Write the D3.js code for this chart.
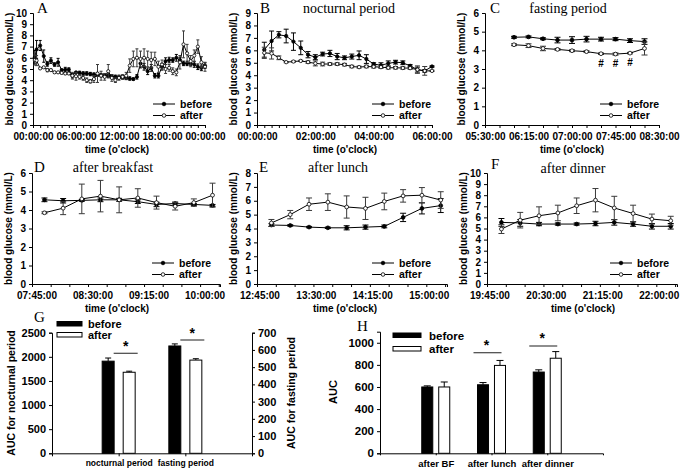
<!DOCTYPE html>
<html><head><meta charset="utf-8">
<script src="https://cdn.jsdelivr.net/npm/d3@7"></script>
<style>
body{margin:0;background:#fff;}
svg{display:block;font-family:"Liberation Sans",Arial,sans-serif;}
</style></head><body>
<svg id="c" width="685" height="468"></svg>
<script>
// ---------- DATA ----------
const hoursA=[0.25,0.5,1,1.5,2,2.5,3,3.5,4,4.5,5,5.5,6,6.5,7,7.5,8,8.5,9,9.5,10,10.5,11,11.5,12,12.5,13,13.5,14,14.5,15,15.5,16,16.5,17,17.5,18,18.5,19,19.5,20,20.5,21,21.5,22,22.5,23,23.5,24];
const beforeA=[6.05,6.75,7.1,6.15,5.45,5.75,5.4,5.6,4.9,4.95,4.95,4.4,4.7,4.65,4.6,4.6,4.55,4.5,4.5,4.45,4.4,4.4,4.35,4.3,4.3,4.25,4.2,4.15,4.1,4.3,5.5,5.2,4.8,5.1,4.4,4.4,5.2,5.7,5.8,5.8,6.0,5.8,5.5,5.5,5.5,5.4,5.2,5.1,5.3];
const beforeErrA=[0.6,0.8,0.45,0.55,0.2,0.25,0.15,0.35,0.1,0.2,0.15,0.2,0.05,0.15,0.15,0.15,0.15,0.15,0.15,0.15,0.15,0.15,0.15,0.15,0.15,0.15,0.15,0.15,0.1,0.2,0.4,0.3,0.3,0.3,0.2,0.2,0.3,0.3,0.25,0.2,0.3,0.25,0.2,0.2,0.2,0.25,0.25,0.25,0.25];
const afterA=[5.8,5.75,5.05,5.15,4.9,4.9,4.7,4.7,4.65,4.6,4.6,4.4,4.35,4.3,4.2,4.0,3.9,4.1,4.6,4.4,4.3,4.8,4.2,4.0,4.2,4.3,4.4,5.3,5.9,6.0,5.9,6.0,5.9,5.8,5.9,5.2,5.4,5.0,5.1,4.8,4.7,5.6,7.2,6.4,5.7,6.2,7.0,5.6,5.2];
const afterErrA=[0.45,0.45,0.05,0.05,0.15,0.1,0.1,0.08,0.1,0.1,0.1,0.3,0.35,0.2,0.2,0.2,0.15,0.3,0.8,0.4,0.3,0.6,0.3,0.2,0.2,0.2,0.3,0.6,0.7,0.8,0.7,0.8,0.7,0.7,0.6,0.5,0.4,0.4,0.3,0.3,0.3,0.6,1.2,0.8,0.5,0.5,0.6,0.5,0.4];

const timesB=["00:15","00:30","00:45","01:00","01:15","01:30","01:45","02:00","02:15","02:30","02:45","03:00","03:15","03:30","03:45","04:00","04:15","04:30","04:45","05:00","05:15","05:30","05:45","06:00"];
const beforeB=[6.05,6.75,7.25,7.15,6.7,6.2,5.65,5.45,5.7,5.75,5.5,5.4,5.5,5.6,5.3,4.9,4.8,4.95,5.05,5.0,4.75,4.45,4.35,4.7];
const beforeErrB=[0.6,0.8,0.25,0.55,0.7,0.55,0.25,0.2,0.15,0.25,0.25,0.15,0.2,0.35,0.35,0.1,0.2,0.2,0.15,0.15,0.1,0.2,0.1,0.05];
const afterB=[5.8,5.75,5.4,5.05,5.1,5.15,5.05,4.95,4.9,4.9,4.9,4.85,4.7,4.65,4.7,4.68,4.65,4.6,4.6,4.58,4.57,4.45,4.35,4.35];
const afterErrB=[0.45,0.45,0.15,0.05,0.05,0.05,0.1,0.2,0.15,0.1,0.1,0.1,0.1,0.08,0.1,0.1,0.1,0.1,0.1,0.1,0.1,0.3,0.35,0.05];

const timesC=["06:00","06:15","06:30","06:45","07:00","07:15","07:30","07:45","08:00","08:15"];
const beforeC=[4.7,4.72,4.62,4.55,4.55,4.6,4.6,4.6,4.52,4.47];
const beforeErrC=[0.05,0.05,0.05,0.15,0.18,0.15,0.1,0.08,0.1,0.15];
const afterC=[4.3,4.25,4.1,4.05,3.98,3.93,3.82,3.8,3.85,4.1];
const afterErrC=[0.05,0.1,0.12,0.05,0.05,0.05,0.04,0.06,0.04,0.35];
const markC=["","","","","","","#","#","#",""];

const timesD=["07:45","08:00","08:15","08:30","08:45","09:00","09:15","09:30","09:45","10:00"];
const beforeD=[4.55,4.5,4.52,4.55,4.55,4.45,4.3,4.35,4.3,4.25];
const beforeErrD=[0.1,0.12,0.05,0.1,0.08,0.1,0.12,0.08,0.05,0.05];
const afterD=[3.85,4.1,4.6,4.75,4.55,4.65,4.4,4.2,4.4,4.8];
const afterErrD=[0.05,0.35,0.8,0.85,0.7,0.5,0.35,0.2,0.2,0.65];

const timesE=["12:45","13:00","13:15","13:30","13:45","14:00","14:15","14:30","14:45","15:00"];
const beforeE=[4.25,4.22,4.1,4.05,4.05,4.1,4.15,4.8,5.45,5.65];
const beforeErrE=[0.1,0.05,0.05,0.05,0.15,0.15,0.1,0.3,0.4,0.5];
const afterE=[4.4,5.0,5.75,5.9,5.55,5.45,5.95,6.35,6.4,6.05];
const afterErrE=[0.25,0.3,0.45,0.6,0.8,0.8,0.6,0.45,0.55,0.6];

const timesF=["19:45","20:00","20:15","20:30","20:45","21:00","21:15","21:30","21:45","22:00"];
const beforeF=[5.55,5.5,5.4,5.4,5.4,5.45,5.55,5.4,5.2,5.2];
const beforeErrF=[0.35,0.3,0.15,0.1,0.1,0.2,0.25,0.2,0.25,0.25];
const afterF=[4.95,5.75,6.15,6.4,7.05,7.55,6.85,6.35,5.85,5.7];
const afterErrF=[0.4,0.7,0.8,0.7,0.7,1.05,1.05,0.75,0.45,0.4];

const periodsG=["nocturnal period","fasting period"];
const beforeG=[1910,623];
const beforeErrG=[65,12];
const afterG=[1680,541];
const afterErrG=[22,8];

const mealsH=["after BF","after lunch","after dinner"];
const beforeH=[600,620,735];
const beforeErrH=[10,20,20];
const afterH=[600,795,860];
const afterErrH=[45,45,60];

const seriesNames=["before","after"];

// ---------- HELPERS ----------
const svg=d3.select("#c");
const toMin=t=>+t.slice(0,2)*60+ +t.slice(3,5);
const fmtMin=m=>{const h=Math.floor(m/60)%24,mm=m%60;return String(h).padStart(2,"0")+":"+String(mm).padStart(2,"0")+":00";};
const FONT="Liberation Sans, Arial, sans-serif";
const SERIF="Liberation Serif, Times New Roman, serif";

function styleAxis(g,fs){
  g.select(".domain").attr("stroke","#000").attr("stroke-width",1);
  g.selectAll(".tick line").attr("stroke","#000");
  g.selectAll(".tick text").attr("font-family",FONT).attr("font-weight","bold").attr("font-size",fs||10).attr("fill","#000");
}

function linePanel(o){
  const g=svg.append("g");
  const x=d3.scaleLinear().domain(o.xDomain).range(o.xRange);
  const y=d3.scaleLinear().domain([0,o.yMax]).range([o.yBot,o.yTop]);
  g.append("g").attr("transform",`translate(${o.xRange[0]},0)`)
    .call(d3.axisLeft(y).ticks(o.yMax).tickSize(3).tickPadding(3).tickFormat(d3.format("d")))
    .call(styleAxis);
  g.append("g").attr("transform",`translate(0,${o.yBot})`)
    .call(d3.axisBottom(x).tickValues(o.minor).tickSize(3).tickFormat(""))
    .call(styleAxis);
  g.append("g").attr("transform",`translate(0,${o.yBot})`)
    .call(d3.axisBottom(x).tickValues(o.major).tickSize(0).tickPadding(8).tickFormat(o.fmt))
    .call(styleAxis).call(a=>{a.select(".domain").remove();a.selectAll(".tick text").attr("dx",o.labelDx||0);});
  const ser=[
    {name:"before",v:o.before,e:o.beforeErr,fill:"#000"},
    {name:"after",v:o.after,e:o.afterErr,fill:"#fff"}
  ];
  const line=d3.line().x(d=>x(d[0])).y(d=>y(d[1]));
  ser.forEach(s=>{
    const pts=o.xs.map((t,i)=>[t,s.v[i],s.e[i]]);
    const eb=g.append("g").attr("stroke",s.name==="after"?"#3a3a3a":"#000").attr("stroke-width",1);
    pts.forEach(p=>{
      const cx=x(p[0]);
      eb.append("line").attr("x1",cx).attr("x2",cx).attr("y1",y(p[1]-p[2])).attr("y2",y(p[1]+p[2]));
      eb.append("line").attr("x1",cx-o.cap).attr("x2",cx+o.cap).attr("y1",y(p[1]+p[2])).attr("y2",y(p[1]+p[2]));
      eb.append("line").attr("x1",cx-o.cap).attr("x2",cx+o.cap).attr("y1",y(p[1]-p[2])).attr("y2",y(p[1]-p[2]));
    });
    g.append("path").datum(pts).attr("fill","none").attr("stroke","#000").attr("stroke-width",1).attr("d",line);
    g.append("g").selectAll("circle").data(pts).join("circle")
      .attr("cx",d=>x(d[0])).attr("cy",d=>y(d[1])).attr("r",o.r)
      .attr("fill",s.fill).attr("stroke","#000").attr("stroke-width",0.8);
  });
  if(o.marks){
    g.append("g").selectAll("text").data(o.xs.map((t,i)=>[t,o.marks[i],o.after[i]]).filter(d=>d[1]))
      .join("text").attr("x",d=>x(d[0])).attr("y",d=>y(d[2])+13).attr("text-anchor","middle")
      .attr("font-family",FONT).attr("font-weight","bold").attr("font-size",10).text(d=>d[1]);
  }
  seriesNames.forEach((n,i)=>{
    const ly=o.legY+i*11.5;
    g.append("line").attr("x1",o.legX).attr("x2",o.legX+22).attr("y1",ly).attr("y2",ly).attr("stroke","#000");
    g.append("circle").attr("cx",o.legX+11).attr("cy",ly).attr("r",1.8).attr("fill",i?"#fff":"#000").attr("stroke","#000").attr("stroke-width",0.8);
    g.append("text").attr("x",o.legX+27).attr("y",ly+3.5).attr("font-family",FONT).attr("font-weight","bold").attr("font-size",10.5).text(n);
  });
  g.append("text").attr("x",o.letterX).attr("y",o.letterY).attr("font-family",SERIF).attr("font-size",15).text(o.letter);
  if(o.title) g.append("text").attr("x",o.titleX).attr("y",o.titleY||o.letterY).attr("text-anchor","middle").attr("font-family",SERIF).attr("font-size",14).text(o.title);
  g.append("text").attr("transform",`translate(${o.xRange[0]-20},${(o.yTop+o.yBot)/2}) rotate(-90)`)
    .attr("text-anchor","middle").attr("font-family",FONT).attr("font-weight","bold").attr("font-size",10).text("blood glucose (mmol/L)");
  g.append("text").attr("x",o.xlabX).attr("y",o.yBot+28).attr("text-anchor","middle")
    .attr("font-family",FONT).attr("font-weight","bold").attr("font-size",10).text("time (o'clock)");
}

// ---------- PANELS A-F ----------
linePanel({letter:"A",letterX:37,letterY:13,xDomain:[0,24],xRange:[33,205],yTop:13,yBot:125,yMax:10,
  xs:hoursA,before:beforeA,beforeErr:beforeErrA,after:afterA,afterErr:afterErrA,
  major:[0,6,12,18,24],minor:d3.range(0,24.01,1),fmt:d=>fmtMin(d*60),r:1.6,cap:1.5,
  legX:153,legY:104,xlabX:117});
linePanel({letter:"B",letterX:260,letterY:13,title:"nocturnal period",titleX:349,xDomain:[0,360],xRange:[257,432],yTop:13,yBot:125,yMax:9,
  xs:timesB.map(toMin),before:beforeB,beforeErr:beforeErrB,after:afterB,afterErr:afterErrB,
  major:[0,120,240,360],minor:d3.range(0,361,15),fmt:fmtMin,r:1.7,cap:2.5,
  legX:372,legY:104,xlabX:345});
linePanel({letter:"C",letterX:490,letterY:13,title:"fasting period",titleX:568,xDomain:[330,510],xRange:[485,659],yTop:13,yBot:125,yMax:6,
  xs:timesC.map(toMin),before:beforeC,beforeErr:beforeErrC,after:afterC,afterErr:afterErrC,marks:markC,
  major:[330,375,420,465,510],minor:d3.range(330,511,15),fmt:fmtMin,r:1.9,cap:3,
  legX:600,legY:104,xlabX:572});
linePanel({letter:"D",letterX:34,letterY:172,title:"after breakfast",titleX:113,xDomain:[455,606],xRange:[32,220],yTop:173,yBot:284,yMax:6,
  xs:timesD.map(toMin),before:beforeD,beforeErr:beforeErrD,after:afterD,afterErr:afterErrD,
  major:[465,510,555,600],minor:d3.range(455,607,15),fmt:fmtMin,r:1.9,cap:3,labelDx:-8,
  legX:152,legY:263,xlabX:117});
linePanel({letter:"E",letterX:259,letterY:172,title:"after lunch",titleX:338,xDomain:[753.5,905],xRange:[257,447],yTop:173,yBot:284,yMax:8,
  xs:timesE.map(toMin),before:beforeE,beforeErr:beforeErrE,after:afterE,afterErr:afterErrE,
  major:[765,810,855,900],minor:d3.range(753.5,906,15),fmt:fmtMin,r:1.9,cap:3,labelDx:-12,
  legX:372,legY:263,xlabX:345});
linePanel({letter:"F",letterX:491,letterY:169,title:"after dinner",titleY:173,titleX:573,xDomain:[1173.5,1325],xRange:[487,677],yTop:173,yBot:284,yMax:10,
  xs:timesF.map(toMin),before:beforeF,beforeErr:beforeErrF,after:afterF,afterErr:afterErrF,
  major:[1185,1230,1275,1320],minor:d3.range(1173.5,1326,15),fmt:fmtMin,r:1.9,cap:3,labelDx:-12,
  legX:610,legY:263,xlabX:583});

// ---------- PANEL G ----------
(function(){
  const g=svg.append("g");
  const yTop=332.7,yBot=453.3,xl=52,xr=252;
  const x0=d3.scalePoint().domain(periodsG).range([xl,xr]).padding(1);
  const x1=d3.scaleBand().domain(seriesNames).range([-16.5,16.5]).paddingInner(0.43);
  const yL=d3.scaleLinear().domain([0,2500]).range([yBot,yTop]);
  const yR=d3.scaleLinear().domain([0,700]).range([yBot,yTop]);
  const ys=[yL,yR];
  g.append("g").attr("transform",`translate(${xl},0)`).call(d3.axisLeft(yL).tickValues(d3.range(0,2501,500)).tickFormat(d3.format("d")).tickSize(3).tickPadding(3)).call(styleAxis,11);
  g.append("g").attr("transform",`translate(${xr},0)`).call(d3.axisRight(yR).tickValues(d3.range(0,701,100)).tickFormat(d3.format("d")).tickSize(3).tickPadding(3)).call(styleAxis,11);
  g.append("g").attr("transform",`translate(0,${yBot})`).call(d3.axisBottom(x0).tickSize(3).tickPadding(4)).call(styleAxis,8.5);
  const vals=[beforeG,afterG],errs=[beforeErrG,afterErrG];
  periodsG.forEach((p,i)=>{
    const y=ys[i];
    seriesNames.forEach((s,j)=>{
      const bx=x0(p)+x1(s),bw=x1.bandwidth(),v=vals[j][i],e=errs[j][i];
      g.append("line").attr("x1",bx+bw/2).attr("x2",bx+bw/2).attr("y1",y(v)).attr("y2",y(v+e)).attr("stroke","#000");
      g.append("line").attr("x1",bx+bw/2-3).attr("x2",bx+bw/2+3).attr("y1",y(v+e)).attr("y2",y(v+e)).attr("stroke","#000");
      g.append("rect").attr("x",bx).attr("width",bw).attr("y",y(v)).attr("height",yBot-y(v))
        .attr("fill",j?"#fff":"#000").attr("stroke","#000").attr("stroke-width",1);
    });
    const sy=i===0?353.3:340;
    g.append("line").attr("x1",x0(p)-5).attr("x2",x0(p)+19).attr("y1",sy).attr("y2",sy).attr("stroke","#444").attr("stroke-width",1.2);
    g.append("text").attr("x",x0(p)+7).attr("y",sy-2).attr("text-anchor","middle").attr("font-family",FONT).attr("font-weight","bold").attr("font-size",14).text("*");
  });
  seriesNames.forEach((s,j)=>{
    g.append("rect").attr("x",57).attr("y",321.5+j*11).attr("width",25).attr("height",4.5).attr("fill",j?"#fff":"#000").attr("stroke","#000");
    g.append("text").attr("x",88).attr("y",328+j*11).attr("font-family",FONT).attr("font-weight","bold").attr("font-size",11).text(s);
  });
  g.append("text").attr("x",34).attr("y",322).attr("font-family",SERIF).attr("font-size",15).text("G");
  g.append("text").attr("transform",`translate(15,${(yTop+yBot)/2}) rotate(-90)`).attr("text-anchor","middle")
    .attr("font-family",FONT).attr("font-weight","bold").attr("font-size",10.5).text("AUC for nocturnal period");
  g.append("text").attr("transform",`translate(295,${(yTop+yBot)/2}) rotate(-90)`).attr("text-anchor","middle")
    .attr("font-family",FONT).attr("font-weight","bold").attr("font-size",10.5).text("AUC for fasting period");
})();

// ---------- PANEL H ----------
(function(){
  const g=svg.append("g");
  const yTop=331.7,yBot=453.3,xl=380,xr=603;
  const x0=d3.scalePoint().domain(mealsH).range([xl,xr]).padding(1);
  const x1=d3.scaleBand().domain(seriesNames).range([-14,14]).paddingInner(0.35);
  const y=d3.scaleLinear().domain([0,1100]).range([yBot,yTop]);
  g.append("g").attr("transform",`translate(${xl},0)`).call(d3.axisLeft(y).tickValues(d3.range(0,1001,200)).tickFormat(d3.format("d")).tickSize(3).tickPadding(3)).call(styleAxis,11.5);
  g.append("g").attr("transform",`translate(0,${yBot})`).call(d3.axisBottom(x0).tickSize(2).tickPadding(5)).call(styleAxis,9.5);
  const vals=[beforeH,afterH],errs=[beforeErrH,afterErrH];
  mealsH.forEach((m,i)=>{
    seriesNames.forEach((s,j)=>{
      const bx=x0(m)+x1(s),bw=x1.bandwidth(),v=vals[j][i],e=errs[j][i];
      g.append("line").attr("x1",bx+bw/2).attr("x2",bx+bw/2).attr("y1",y(v)).attr("y2",y(v+e)).attr("stroke","#000");
      g.append("line").attr("x1",bx+bw/2-3.5).attr("x2",bx+bw/2+3.5).attr("y1",y(v+e)).attr("y2",y(v+e)).attr("stroke","#000");
      g.append("rect").attr("x",bx).attr("width",bw).attr("y",y(v)).attr("height",yBot-y(v))
        .attr("fill",j?"#fff":"#000").attr("stroke","#000").attr("stroke-width",1);
    });
  });
  [[1,352.7],[2,346]].forEach(([i,sy])=>{
    const c=x0(mealsH[i]);
    g.append("line").attr("x1",c-18).attr("x2",c+10).attr("y1",sy).attr("y2",sy).attr("stroke","#444").attr("stroke-width",1.2);
    g.append("text").attr("x",c-5).attr("y",sy-3).attr("text-anchor","middle").attr("font-family",FONT).attr("font-weight","bold").attr("font-size",14).text("*");
  });
  seriesNames.forEach((s,j)=>{
    g.append("rect").attr("x",393).attr("y",333+j*13.5).attr("width",28).attr("height",4.5).attr("fill",j?"#fff":"#000").attr("stroke","#000");
    g.append("text").attr("x",429).attr("y",339.5+j*13.5).attr("font-family",FONT).attr("font-weight","bold").attr("font-size",11.5).text(s);
  });
  g.append("text").attr("x",357).attr("y",331).attr("font-family",SERIF).attr("font-size",15).text("H");
  g.append("text").attr("transform",`translate(337,392) rotate(-90)`).attr("text-anchor","middle")
    .attr("font-family",FONT).attr("font-weight","bold").attr("font-size",11).text("AUC");
})();
</script></body></html>
